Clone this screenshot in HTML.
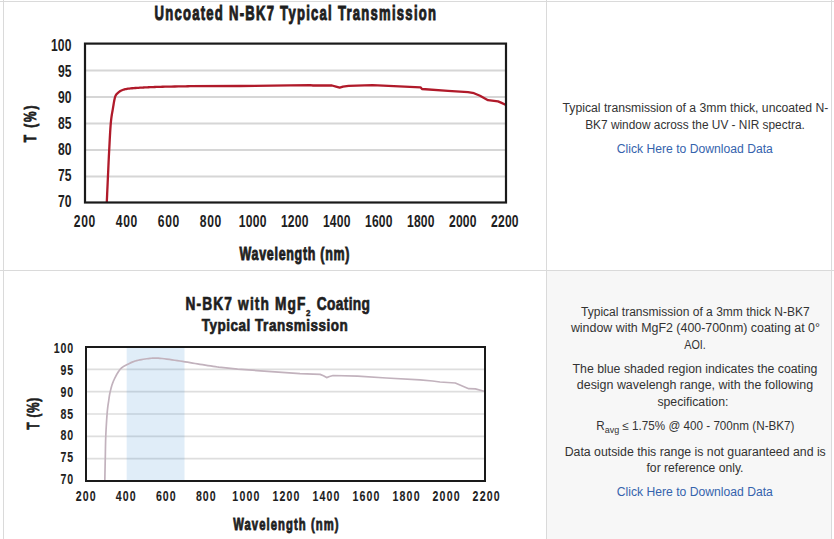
<!DOCTYPE html>
<html><head><meta charset="utf-8">
<style>
html,body{margin:0;padding:0;background:#fff;}
body{width:834px;height:539px;position:relative;overflow:hidden;font-family:"Liberation Sans",sans-serif;}
.ln{position:absolute;background:#dadada;}
.cell2{position:absolute;left:547px;top:271px;width:284px;height:268px;background:#f7f7f7;}
svg{position:absolute;left:0;top:0;}
</style></head><body>
<div class="cell2"></div>
<div class="ln" style="left:0;top:1px;width:834px;height:1px"></div>
<div class="ln" style="left:3px;top:0;width:1px;height:539px"></div>
<div class="ln" style="left:546px;top:0;width:1px;height:539px"></div>
<div class="ln" style="left:831px;top:0;width:1px;height:539px"></div>
<div class="ln" style="left:0;top:270px;width:834px;height:1px"></div>
<svg width="834" height="539" viewBox="0 0 834 539">
<g font-family="Liberation Sans" fill="#1e1e1e">

<g transform="translate(154.50,20.20) scale(0.64,1)"><text x="0" y="0" font-size="20.4" font-weight="bold" textLength="439.84" lengthAdjust="spacing" stroke="#1e1e1e" stroke-width="1.0">Uncoated N-BK7 Typical Transmission</text></g>
<line x1="86" y1="70.58" x2="505" y2="70.58" stroke="#d6d6d6" stroke-width="2"/>
<line x1="86" y1="97.07" x2="505" y2="97.07" stroke="#d6d6d6" stroke-width="2"/>
<line x1="86" y1="123.55" x2="505" y2="123.55" stroke="#d6d6d6" stroke-width="2"/>
<line x1="86" y1="150.03" x2="505" y2="150.03" stroke="#d6d6d6" stroke-width="2"/>
<line x1="86" y1="176.52" x2="505" y2="176.52" stroke="#d6d6d6" stroke-width="2"/>
<g transform="translate(50.90,51.04) scale(0.7,1)"><text x="0" y="0" font-size="17.3" font-weight="bold" textLength="29.29" lengthAdjust="spacing" stroke="#1e1e1e" stroke-width="0.05">100</text></g>
<g transform="translate(58.00,77.04) scale(0.7,1)"><text x="0" y="0" font-size="17.3" font-weight="bold" textLength="19.14" lengthAdjust="spacing" stroke="#1e1e1e" stroke-width="0.05">95</text></g>
<g transform="translate(58.00,103.04) scale(0.7,1)"><text x="0" y="0" font-size="17.3" font-weight="bold" textLength="19.14" lengthAdjust="spacing" stroke="#1e1e1e" stroke-width="0.05">90</text></g>
<g transform="translate(58.00,129.04) scale(0.7,1)"><text x="0" y="0" font-size="17.3" font-weight="bold" textLength="19.14" lengthAdjust="spacing" stroke="#1e1e1e" stroke-width="0.05">85</text></g>
<g transform="translate(58.00,155.04) scale(0.7,1)"><text x="0" y="0" font-size="17.3" font-weight="bold" textLength="19.14" lengthAdjust="spacing" stroke="#1e1e1e" stroke-width="0.05">80</text></g>
<g transform="translate(58.00,181.04) scale(0.7,1)"><text x="0" y="0" font-size="17.3" font-weight="bold" textLength="19.14" lengthAdjust="spacing" stroke="#1e1e1e" stroke-width="0.05">75</text></g>
<g transform="translate(58.00,207.04) scale(0.7,1)"><text x="0" y="0" font-size="17.3" font-weight="bold" textLength="19.14" lengthAdjust="spacing" stroke="#1e1e1e" stroke-width="0.05">70</text></g>
<g transform="translate(73.75,226.50) scale(0.7,1)"><text x="0" y="0" font-size="17.3" font-weight="bold" textLength="30.71" lengthAdjust="spacing" stroke="#1e1e1e" stroke-width="0.05">200</text></g>
<g transform="translate(115.78,226.50) scale(0.7,1)"><text x="0" y="0" font-size="17.3" font-weight="bold" textLength="30.71" lengthAdjust="spacing" stroke="#1e1e1e" stroke-width="0.05">400</text></g>
<g transform="translate(157.81,226.50) scale(0.7,1)"><text x="0" y="0" font-size="17.3" font-weight="bold" textLength="30.71" lengthAdjust="spacing" stroke="#1e1e1e" stroke-width="0.05">600</text></g>
<g transform="translate(199.84,226.50) scale(0.7,1)"><text x="0" y="0" font-size="17.3" font-weight="bold" textLength="30.71" lengthAdjust="spacing" stroke="#1e1e1e" stroke-width="0.05">800</text></g>
<g transform="translate(238.87,226.50) scale(0.7,1)"><text x="0" y="0" font-size="17.3" font-weight="bold" textLength="39.29" lengthAdjust="spacing" stroke="#1e1e1e" stroke-width="0.05">1000</text></g>
<g transform="translate(280.90,226.50) scale(0.7,1)"><text x="0" y="0" font-size="17.3" font-weight="bold" textLength="39.29" lengthAdjust="spacing" stroke="#1e1e1e" stroke-width="0.05">1200</text></g>
<g transform="translate(322.93,226.50) scale(0.7,1)"><text x="0" y="0" font-size="17.3" font-weight="bold" textLength="39.29" lengthAdjust="spacing" stroke="#1e1e1e" stroke-width="0.05">1400</text></g>
<g transform="translate(364.96,226.50) scale(0.7,1)"><text x="0" y="0" font-size="17.3" font-weight="bold" textLength="39.29" lengthAdjust="spacing" stroke="#1e1e1e" stroke-width="0.05">1600</text></g>
<g transform="translate(406.99,226.50) scale(0.7,1)"><text x="0" y="0" font-size="17.3" font-weight="bold" textLength="39.29" lengthAdjust="spacing" stroke="#1e1e1e" stroke-width="0.05">1800</text></g>
<g transform="translate(449.02,226.50) scale(0.7,1)"><text x="0" y="0" font-size="17.3" font-weight="bold" textLength="39.29" lengthAdjust="spacing" stroke="#1e1e1e" stroke-width="0.05">2000</text></g>
<g transform="translate(491.05,226.50) scale(0.7,1)"><text x="0" y="0" font-size="17.3" font-weight="bold" textLength="39.29" lengthAdjust="spacing" stroke="#1e1e1e" stroke-width="0.05">2200</text></g>
<g transform="translate(239.50,260.30) scale(0.7,1)"><text x="0" y="0" font-size="17.8" font-weight="bold" textLength="157.14" lengthAdjust="spacing" stroke="#1e1e1e" stroke-width="0.9">Wavelength (nm)</text></g>
<g transform="translate(35.6,0) rotate(-90)"><g transform="translate(-142.20,0.00) scale(0.7,1)"><text x="0" y="0" font-size="17" font-weight="bold" textLength="52.43" lengthAdjust="spacing" stroke="#1e1e1e" stroke-width="0.8">T (%)</text></g></g>
<path d="M106.80,202.00 L106.89,199.93 L107.02,197.17 L107.16,193.88 L107.32,190.23 L107.50,186.38 L107.67,182.50 L107.84,178.75 L108.00,175.30 L108.15,172.08 L108.29,168.92 L108.43,165.78 L108.57,162.67 L108.72,159.55 L108.87,156.41 L109.03,153.23 L109.20,150.00 L109.38,146.62 L109.56,143.09 L109.74,139.47 L109.94,135.86 L110.14,132.32 L110.35,128.95 L110.57,125.81 L110.80,123.00 L111.05,120.53 L111.31,118.32 L111.58,116.33 L111.86,114.52 L112.15,112.83 L112.44,111.21 L112.72,109.62 L113.00,108.00 L113.27,106.36 L113.53,104.75 L113.79,103.18 L114.04,101.67 L114.31,100.25 L114.59,98.93 L114.88,97.74 L115.20,96.70 L115.54,95.83 L115.90,95.13 L116.27,94.56 L116.66,94.09 L117.05,93.70 L117.46,93.34 L117.88,92.98 L118.30,92.60 L118.72,92.21 L119.13,91.86 L119.54,91.54 L119.97,91.24 L120.42,90.96 L120.90,90.70 L121.42,90.45 L122.00,90.20 L122.60,89.97 L123.20,89.75 L123.82,89.55 L124.48,89.36 L125.21,89.19 L126.02,89.02 L126.95,88.86 L128.00,88.70 L129.23,88.55 L130.62,88.40 L132.15,88.27 L133.75,88.14 L135.38,88.02 L137.00,87.90 L138.55,87.80 L140.00,87.70 L141.31,87.61 L142.52,87.54 L143.68,87.48 L144.81,87.42 L145.97,87.37 L147.20,87.31 L148.52,87.26 L150.00,87.20 L151.57,87.14 L153.16,87.08 L154.82,87.01 L156.56,86.95 L158.42,86.89 L160.43,86.83 L162.61,86.76 L165.00,86.70 L167.82,86.63 L171.13,86.56 L174.74,86.49 L178.44,86.42 L182.02,86.35 L185.27,86.29 L188.00,86.24 L190.00,86.20 L190.00,86.20 L240.00,86.00 L290.00,85.40 L310.00,85.20 L313.00,85.50 L332.00,85.50 L336.00,86.60 L339.70,87.70 L343.00,86.70 L348.60,85.80 L372.40,85.10 L420.50,87.30 L422.00,89.00 L448.00,90.90 L468.00,92.20 L474.00,93.20 L480.00,95.80 L488.00,100.20 L498.00,101.40 L501.00,102.60 L505.50,104.80" fill="none" stroke="#b01a2a" stroke-width="2.3" stroke-linejoin="round"/>
<rect x="85" y="43.6" width="421.00" height="158.90" fill="none" stroke="#1a1a1a" stroke-width="2.2"/>
<g transform="translate(185.50,309.80) scale(0.78,1)"><text x="0" y="0" font-size="17.6" font-weight="bold" textLength="153.85" lengthAdjust="spacing" stroke="#1e1e1e" stroke-width="0.7">N-BK7 with MgF</text></g>
<g transform="translate(305.90,316.00) scale(0.85,1)"><text x="0" y="0" font-size="9.4" font-weight="bold" textLength="6.71" lengthAdjust="spacing" stroke="#1e1e1e" stroke-width="0.45">2</text></g>
<g transform="translate(316.70,309.80) scale(0.78,1)"><text x="0" y="0" font-size="17.6" font-weight="bold" textLength="68.33" lengthAdjust="spacing" stroke="#1e1e1e" stroke-width="0.7">Coating</text></g>
<g transform="translate(201.70,330.60) scale(0.78,1)"><text x="0" y="0" font-size="17.3" font-weight="bold" textLength="187.31" lengthAdjust="spacing" stroke="#1e1e1e" stroke-width="0.7">Typical Transmission</text></g>
<line x1="87" y1="369.33" x2="484" y2="369.33" stroke="#dedede" stroke-width="1.7"/>
<line x1="87" y1="391.67" x2="484" y2="391.67" stroke="#dedede" stroke-width="1.7"/>
<line x1="87" y1="414.00" x2="484" y2="414.00" stroke="#dedede" stroke-width="1.7"/>
<line x1="87" y1="436.33" x2="484" y2="436.33" stroke="#dedede" stroke-width="1.7"/>
<line x1="87" y1="458.67" x2="484" y2="458.67" stroke="#dedede" stroke-width="1.7"/>
<g transform="translate(53.70,352.76) scale(0.72,1)"><text x="0" y="0" font-size="14.7" font-weight="bold" textLength="26.94" lengthAdjust="spacing" stroke="#1e1e1e" stroke-width="0.1">100</text></g>
<g transform="translate(60.40,374.68) scale(0.72,1)"><text x="0" y="0" font-size="14.7" font-weight="bold" textLength="17.64" lengthAdjust="spacing" stroke="#1e1e1e" stroke-width="0.1">95</text></g>
<g transform="translate(60.40,396.60) scale(0.72,1)"><text x="0" y="0" font-size="14.7" font-weight="bold" textLength="17.64" lengthAdjust="spacing" stroke="#1e1e1e" stroke-width="0.1">90</text></g>
<g transform="translate(60.40,418.51) scale(0.72,1)"><text x="0" y="0" font-size="14.7" font-weight="bold" textLength="17.64" lengthAdjust="spacing" stroke="#1e1e1e" stroke-width="0.1">85</text></g>
<g transform="translate(60.40,440.43) scale(0.72,1)"><text x="0" y="0" font-size="14.7" font-weight="bold" textLength="17.64" lengthAdjust="spacing" stroke="#1e1e1e" stroke-width="0.1">80</text></g>
<g transform="translate(60.40,462.35) scale(0.72,1)"><text x="0" y="0" font-size="14.7" font-weight="bold" textLength="17.64" lengthAdjust="spacing" stroke="#1e1e1e" stroke-width="0.1">75</text></g>
<g transform="translate(60.40,484.26) scale(0.72,1)"><text x="0" y="0" font-size="14.7" font-weight="bold" textLength="17.64" lengthAdjust="spacing" stroke="#1e1e1e" stroke-width="0.1">70</text></g>
<g transform="translate(75.80,501.20) scale(0.72,1)"><text x="0" y="0" font-size="14.7" font-weight="bold" textLength="27.50" lengthAdjust="spacing" stroke="#1e1e1e" stroke-width="0.1">200</text></g>
<g transform="translate(115.84,501.20) scale(0.72,1)"><text x="0" y="0" font-size="14.7" font-weight="bold" textLength="27.50" lengthAdjust="spacing" stroke="#1e1e1e" stroke-width="0.1">400</text></g>
<g transform="translate(155.88,501.20) scale(0.72,1)"><text x="0" y="0" font-size="14.7" font-weight="bold" textLength="27.50" lengthAdjust="spacing" stroke="#1e1e1e" stroke-width="0.1">600</text></g>
<g transform="translate(195.92,501.20) scale(0.72,1)"><text x="0" y="0" font-size="14.7" font-weight="bold" textLength="27.50" lengthAdjust="spacing" stroke="#1e1e1e" stroke-width="0.1">800</text></g>
<g transform="translate(232.36,501.20) scale(0.72,1)"><text x="0" y="0" font-size="14.7" font-weight="bold" textLength="37.50" lengthAdjust="spacing" stroke="#1e1e1e" stroke-width="0.1">1000</text></g>
<g transform="translate(272.40,501.20) scale(0.72,1)"><text x="0" y="0" font-size="14.7" font-weight="bold" textLength="37.50" lengthAdjust="spacing" stroke="#1e1e1e" stroke-width="0.1">1200</text></g>
<g transform="translate(312.44,501.20) scale(0.72,1)"><text x="0" y="0" font-size="14.7" font-weight="bold" textLength="37.50" lengthAdjust="spacing" stroke="#1e1e1e" stroke-width="0.1">1400</text></g>
<g transform="translate(352.48,501.20) scale(0.72,1)"><text x="0" y="0" font-size="14.7" font-weight="bold" textLength="37.50" lengthAdjust="spacing" stroke="#1e1e1e" stroke-width="0.1">1600</text></g>
<g transform="translate(392.52,501.20) scale(0.72,1)"><text x="0" y="0" font-size="14.7" font-weight="bold" textLength="37.50" lengthAdjust="spacing" stroke="#1e1e1e" stroke-width="0.1">1800</text></g>
<g transform="translate(432.56,501.20) scale(0.72,1)"><text x="0" y="0" font-size="14.7" font-weight="bold" textLength="37.50" lengthAdjust="spacing" stroke="#1e1e1e" stroke-width="0.1">2000</text></g>
<g transform="translate(472.60,501.20) scale(0.72,1)"><text x="0" y="0" font-size="14.7" font-weight="bold" textLength="37.50" lengthAdjust="spacing" stroke="#1e1e1e" stroke-width="0.1">2200</text></g>
<rect x="126.7" y="347" width="57.8" height="134.00" fill="#3a8ad0" fill-opacity="0.155" stroke="none"/>
<g transform="translate(233.20,529.90) scale(0.72,1)"><text x="0" y="0" font-size="15.6" font-weight="bold" textLength="146.25" lengthAdjust="spacing" stroke="#1e1e1e" stroke-width="0.85">Wavelength (nm)</text></g>
<g transform="translate(38.9,0) rotate(-90)"><g transform="translate(-429.40,0.00) scale(0.7,1)"><text x="0" y="0" font-size="16.5" font-weight="bold" textLength="45.14" lengthAdjust="spacing" stroke="#1e1e1e" stroke-width="0.75">T (%)</text></g></g>
<path d="M104.80,481.00 L104.84,479.13 L104.89,476.63 L104.95,473.65 L105.02,470.34 L105.09,466.87 L105.16,463.39 L105.23,460.04 L105.30,457.00 L105.36,454.20 L105.40,451.48 L105.45,448.82 L105.49,446.18 L105.55,443.56 L105.61,440.91 L105.69,438.24 L105.80,435.50 L105.93,432.63 L106.08,429.63 L106.25,426.56 L106.43,423.49 L106.62,420.49 L106.81,417.63 L107.01,414.98 L107.20,412.60 L107.39,410.50 L107.59,408.62 L107.79,406.93 L108.00,405.38 L108.21,403.95 L108.41,402.60 L108.61,401.29 L108.80,400.00 L108.97,398.78 L109.12,397.70 L109.26,396.71 L109.40,395.78 L109.55,394.86 L109.73,393.92 L109.94,392.91 L110.20,391.80 L110.49,390.60 L110.79,389.34 L111.12,388.05 L111.48,386.72 L111.87,385.36 L112.32,383.98 L112.83,382.59 L113.40,381.20 L114.06,379.74 L114.79,378.20 L115.60,376.60 L116.44,375.00 L117.32,373.45 L118.22,371.98 L119.12,370.65 L120.00,369.50 L120.86,368.55 L121.73,367.75 L122.59,367.09 L123.47,366.51 L124.38,366.00 L125.31,365.52 L126.28,365.03 L127.30,364.50 L128.35,363.95 L129.41,363.41 L130.50,362.88 L131.62,362.37 L132.80,361.89 L134.03,361.43 L135.32,361.00 L136.70,360.60 L138.20,360.23 L139.83,359.88 L141.55,359.56 L143.31,359.26 L145.08,359.00 L146.82,358.76 L148.47,358.56 L150.00,358.40 L151.34,358.27 L152.50,358.16 L153.55,358.09 L154.58,358.04 L155.66,358.04 L156.87,358.08 L158.29,358.16 L160.00,358.30 L162.02,358.50 L164.30,358.76 L166.77,359.08 L169.38,359.44 L172.06,359.82 L174.77,360.22 L177.43,360.61 L180.00,361.00 L182.51,361.39 L185.03,361.79 L187.55,362.21 L190.08,362.64 L192.59,363.07 L195.08,363.49 L197.56,363.90 L200.00,364.30 L202.54,364.70 L205.22,365.12 L207.96,365.54 L210.65,365.96 L213.18,366.34 L215.45,366.69 L217.36,366.98 L218.80,367.20 L218.80,367.20 L237.60,369.10 L260.60,370.80 L300.00,373.70 L320.10,374.40 L323.50,375.80 L326.60,377.60 L329.50,376.50 L333.10,375.50 L357.60,376.10 L386.30,378.00 L420.00,379.90 L432.60,381.00 L440.00,382.00 L455.30,383.00 L468.70,388.70 L475.40,388.90 L484.00,391.20" fill="none" stroke="#c2b2bd" stroke-width="1.7" stroke-linejoin="round"/>
<rect x="86" y="347" width="399.00" height="134.00" fill="none" stroke="#1a1a1a" stroke-width="2"/>
</g></svg>
<svg width="834" height="539" viewBox="0 0 834 539"><g font-family="Liberation Sans" font-size="12.3" fill="#333">
<text x="562.6" y="111.8" textLength="265.7" lengthAdjust="spacingAndGlyphs">Typical transmission of a 3mm thick, uncoated N-</text>
<text x="585.2" y="128.6" textLength="219.6" lengthAdjust="spacingAndGlyphs">BK7 window across the UV - NIR spectra.</text>
<text x="616.8" y="152.6" textLength="156.1" lengthAdjust="spacingAndGlyphs" fill="#3563ad">Click Here to Download Data</text>
<text x="581.0" y="316.0" textLength="228.8" lengthAdjust="spacingAndGlyphs">Typical transmission of a 3mm thick N-BK7</text>
<text x="570.9" y="331.6" textLength="249.0" lengthAdjust="spacingAndGlyphs">window with MgF2 (400-700nm) coating at 0°</text>
<text x="684.2" y="348.7" textLength="21.6" lengthAdjust="spacingAndGlyphs">AOI.</text>
<text x="572.6" y="372.6" textLength="244.8" lengthAdjust="spacingAndGlyphs">The blue shaded region indicates the coating</text>
<text x="576.8" y="389.4" textLength="236.4" lengthAdjust="spacingAndGlyphs">design wavelengh range, with the following</text>
<text x="657.4" y="406.2" textLength="71.0" lengthAdjust="spacingAndGlyphs">specification:</text>
<text x="564.7" y="455.5" textLength="261.1" lengthAdjust="spacingAndGlyphs">Data outside this range is not guaranteed and is</text>
<text x="646.5" y="471.6" textLength="97.0" lengthAdjust="spacingAndGlyphs">for reference only.</text>
<text x="616.8" y="496.3" textLength="156.1" lengthAdjust="spacingAndGlyphs" fill="#3563ad">Click Here to Download Data</text>
<g transform="translate(597,0) scale(0.95,1) translate(-597,0)"><text x="596.2" y="430.2">R<tspan font-size="9.5" dy="3">avg</tspan><tspan dy="-3"> ≤ 1.75% @ 400 - 700nm (N-BK7)</tspan></text></g>
</g></svg>
</body></html>
